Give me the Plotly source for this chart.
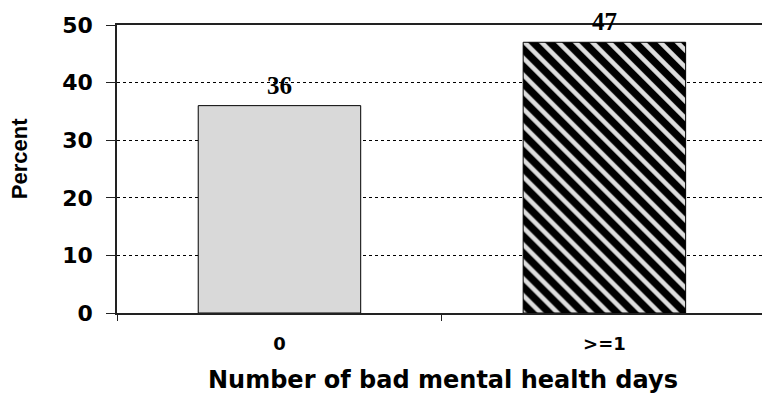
import plotly.graph_objects as go

categories = ["0", ">=1"]
values = [36, 47]
value_labels = ["36", "47"]
y_ticks = [0, 10, 20, 30, 40, 50]
x_title = "Number of bad mental health days"
y_title = "Percent"

bar_styles = [
    dict(color="#d9d9d9", line=dict(color="black", width=1)),
    dict(color="black", line=dict(color="black", width=1),
         pattern=dict(shape="\\", fillmode="replace", bgcolor="black",
                      fgcolor="#dedede", size=12, solidity=0.38)),
]

fig = go.Figure()
for c, v, st in zip(categories, values, bar_styles):
    fig.add_trace(go.Bar(x=[c], y=[v], width=0.5, marker=st, hoverinfo="skip"))

for c, v, t in zip(categories, values, value_labels):
    fig.add_annotation(
        x=c, y=v, text=f"<b>{t}</b>", showarrow=False,
        yanchor="bottom", yshift=5,
        font=dict(family="Liberation Serif", size=25, color="black"),
    )

fig.add_annotation(
    xref="paper", yref="paper", x=-0.15, y=0.535, text=f"<b>{y_title}</b>",
    textangle=-90, showarrow=False, xanchor="center", yanchor="middle",
    font=dict(family="Liberation Sans", size=22, color="black"),
)
fig.add_annotation(
    xref="paper", yref="paper", x=0.506, y=0, yshift=-67, text=f"<b>{x_title}</b>",
    showarrow=False, xanchor="center", yanchor="middle",
    font=dict(family="DejaVu Sans", size=24, color="black"),
)

fig.update_layout(
    width=762, height=394,
    margin=dict(l=117, r=0, t=25, b=81),
    paper_bgcolor="white", plot_bgcolor="white",
    showlegend=False, barmode="overlay",
    xaxis=dict(
        type="category", categoryorder="array", categoryarray=categories,
        range=[-0.5, 1.485],
        showline=True, linecolor="#222", linewidth=1.5, mirror=True,
        ticks="outside", tickson="boundaries", ticklen=6, tickcolor="#222",
        showgrid=False, ticklabelstandoff=14,
        tickfont=dict(family="DejaVu Sans", size=18, color="black", weight="bold"),
    ),
    yaxis=dict(
        range=[0, 50], tickvals=y_ticks,
        showline=True, linecolor="#222", linewidth=1.5,
        ticks="outside", ticklen=9, tickcolor="#222",
        showgrid=True, gridcolor="black", gridwidth=1, griddash="3px,3px",
        zeroline=False, ticklabelstandoff=9,
        tickfont=dict(family="DejaVu Sans", size=22, color="black", weight="bold"),
    ),
)

fig.write_html(
    "out.html",
    config={"displayModeBar": False},
    post_script="document.body.style.margin='0';document.body.style.overflow='hidden';",
)
